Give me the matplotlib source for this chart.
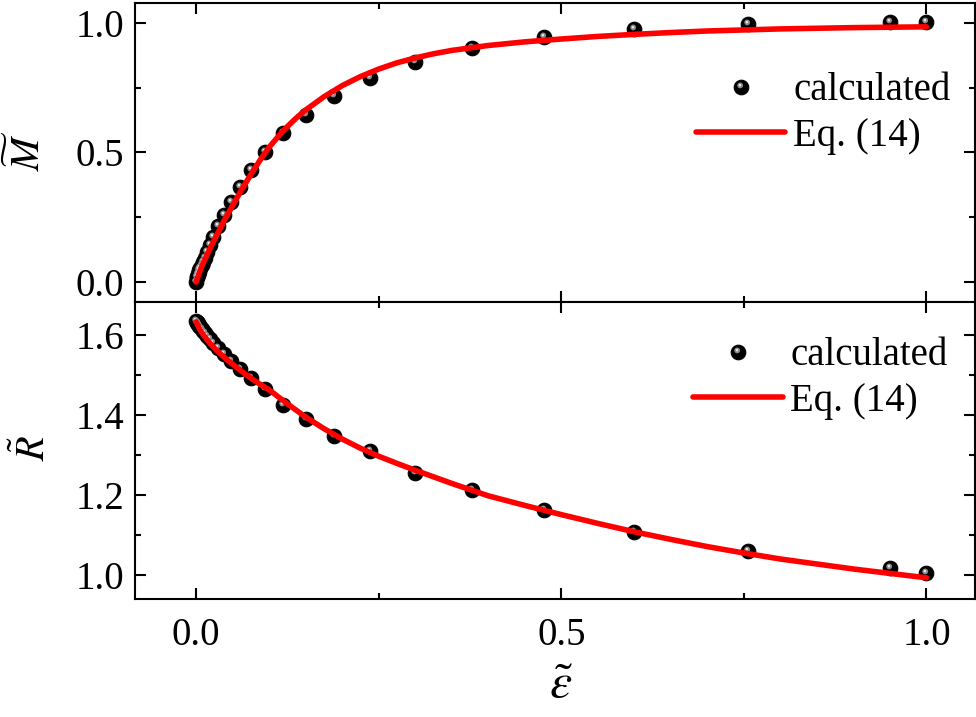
import numpy as np
import matplotlib
matplotlib.use('Agg')
import matplotlib.pyplot as plt
from matplotlib.path import Path
from matplotlib.lines import Line2D
from matplotlib.ticker import MultipleLocator, FormatStrFormatter
from matplotlib.legend_handler import HandlerTuple

# ---------------- data ----------------
eps_calc = [1.0, 0.95, 0.756, 0.6, 0.476, 0.378, 0.3, 0.238, 0.189, 0.15,
            0.119, 0.0945, 0.075, 0.0596, 0.0473, 0.0376, 0.0298, 0.0237,
            0.0188, 0.0149, 0.0118, 0.0094, 0.0075, 0.0059, 0.0047, 0.0037,
            0.003, 0.0024, 0.0019, 0.0015, 0.0]
M_calc = [1.004, 1.004, 0.996, 0.977, 0.946, 0.903, 0.849, 0.788, 0.718, 0.645,
          0.575, 0.502, 0.432, 0.367, 0.309, 0.259, 0.216, 0.174,
          0.143, 0.116, 0.093, 0.077, 0.065, 0.054, 0.045, 0.037,
          0.031, 0.026, 0.021, 0.018, 0.0]
R_calc = [1.005, 1.0175, 1.06, 1.1075, 1.1625, 1.2125, 1.255, 1.31, 1.3475, 1.39,
          1.425, 1.465, 1.492, 1.515, 1.535, 1.552, 1.567, 1.58,
          1.59, 1.598, 1.605, 1.61, 1.615, 1.619, 1.622, 1.625,
          1.627, 1.629, 1.631, 1.632, 1.635]

eps_fitM = [0, 0.003, 0.006, 0.01, 0.015, 0.02, 0.03, 0.04, 0.05, 0.0625, 0.075,
            0.0875, 0.1, 0.1125, 0.125, 0.1375, 0.15, 0.175, 0.2, 0.225, 0.25,
            0.275, 0.3, 0.325, 0.35, 0.4, 0.45, 0.5, 0.55, 0.6, 0.65, 0.7, 0.8,
            0.9, 1.0]
M_fit = [0, 0.025, 0.048, 0.075, 0.105, 0.135, 0.19, 0.245, 0.295, 0.357, 0.415,
         0.47, 0.52, 0.562, 0.6, 0.634, 0.664, 0.715, 0.758, 0.793, 0.822,
         0.846, 0.865, 0.881, 0.894, 0.913, 0.927, 0.938, 0.948, 0.956, 0.963,
         0.969, 0.977, 0.982, 0.985]
eps_fitR = [0, 0.005, 0.01, 0.02, 0.03, 0.04, 0.05, 0.0625, 0.075, 0.0875, 0.1,
            0.125, 0.15, 0.175, 0.2, 0.225, 0.25, 0.275, 0.3, 0.35, 0.4, 0.45,
            0.5, 0.55, 0.6, 0.65, 0.7, 0.75, 0.8, 0.9, 1.0]
R_fit = [1.633, 1.614, 1.6, 1.577, 1.558, 1.542, 1.527, 1.509, 1.492, 1.477,
         1.463, 1.428, 1.395, 1.366, 1.34, 1.317, 1.297, 1.279, 1.262, 1.229,
         1.198, 1.174, 1.151, 1.129, 1.108, 1.089, 1.071, 1.055, 1.040, 1.015,
         0.993]

legend_labels = ['calculated', 'Eq. (14)']

# ---------------- style ----------------
plt.rcParams['font.family'] = ['Liberation Serif', 'DejaVu Serif']
plt.rcParams['mathtext.fontset'] = 'stix'
FS = 28

def make_hl(cx, cy, r):
    c = Path.circle(center=(cx, cy), radius=r)
    verts = np.vstack([[[-1, -1], [1, 1]], c.vertices])
    codes = np.concatenate([[Path.MOVETO, Path.MOVETO], c.codes])
    return Path(verts, codes)

hl1 = make_hl(-0.18, 0.28, 0.40)
hl2 = make_hl(-0.22, 0.32, 0.17)
MS = 10.5

def ball(ax, x, y):
    ax.plot(x, y, ls='none', marker='o', ms=MS, mfc='black', mec='black', mew=0.8, zorder=3)
    ax.plot(x, y, ls='none', marker=hl1, ms=MS, mfc='#8a8a8a', mec='none', zorder=3.1)
    ax.plot(x, y, ls='none', marker=hl2, ms=MS, mfc='#e8e8e8', mec='none', zorder=3.2)

def ball_handle():
    h0 = Line2D([], [], ls='none', marker='o', ms=MS, mfc='black', mec='black', mew=0.8)
    h1 = Line2D([], [], ls='none', marker=hl1, ms=MS, mfc='#8a8a8a', mec='none')
    h2 = Line2D([], [], ls='none', marker=hl2, ms=MS, mfc='#e8e8e8', mec='none')
    return (h0, h1, h2)

fig = plt.figure(figsize=(9.76, 7.17), dpi=100)
W, H = 976, 717
left, right = 135, 974.5
ax1 = fig.add_axes([left / W, (H - 302) / H, (right - left) / W, 299 / H])
ax2 = fig.add_axes([left / W, (H - 599) / H, (right - left) / W, 297 / H])

for ax in (ax1, ax2):
    ax.set_xlim(-0.0836, 1.0658)
    ax.xaxis.set_major_locator(MultipleLocator(0.5))
    ax.xaxis.set_minor_locator(MultipleLocator(0.25))
    ax.tick_params(which='both', direction='in', top=True, right=True,
                   width=1.5, labelsize=FS)
    ax.tick_params(which='major', length=8, pad=8)
    ax.tick_params(which='minor', length=4)
    for s in ax.spines.values():
        s.set_linewidth(1.5)
    ax.xaxis.set_major_formatter(FormatStrFormatter('%.1f'))
    ax.yaxis.set_major_formatter(FormatStrFormatter('%.1f'))

ax1.set_ylim(-0.077, 1.077)
ax1.yaxis.set_major_locator(MultipleLocator(0.5))
ax1.yaxis.set_minor_locator(MultipleLocator(0.25))
ax1.tick_params(labelbottom=False)

ax2.set_ylim(0.94, 1.6825)
ax2.yaxis.set_major_locator(MultipleLocator(0.2))
ax2.yaxis.set_minor_locator(MultipleLocator(0.1))
ax2.tick_params(axis='x', which='major', pad=13)

ball(ax1, eps_calc, M_calc)
ax1.plot(eps_fitM, M_fit, color='#ff0000', lw=4, solid_capstyle='round',
         solid_joinstyle='round', zorder=4)
ball(ax2, eps_calc, R_calc)
ax2.plot(eps_fitR, R_fit, color='#ff0000', lw=4, solid_capstyle='round',
         solid_joinstyle='round', zorder=4)

for ax, anchor in ((ax1, (0.668, 0.63)), (ax2, (0.665, 0.742))):
    lh = Line2D([], [], color='#ff0000', lw=4, solid_capstyle='round')
    ax.legend([ball_handle(), lh], legend_labels, loc='center left',
              bbox_to_anchor=anchor, frameon=False, borderpad=0, borderaxespad=0,
              handlelength=2.3, handletextpad=0.2, labelspacing=0.22,
              fontsize=FS, numpoints=1,
              handler_map={tuple: HandlerTuple(ndivide=1)})

fig.text(28 / W, 1 - 151 / H, r'$\widetilde{M}$', rotation=90, ha='center', va='center', fontsize=29)
fig.text(34 / W, 1 - 448 / H, r'$\tilde{R}$', rotation=90, ha='center', va='center', fontsize=29)
fig.text(561 / W, 1 - 686 / H, r'$\tilde{\varepsilon}$', ha='center', va='center', fontsize=36)

fig.savefig('out.png', dpi=100)
